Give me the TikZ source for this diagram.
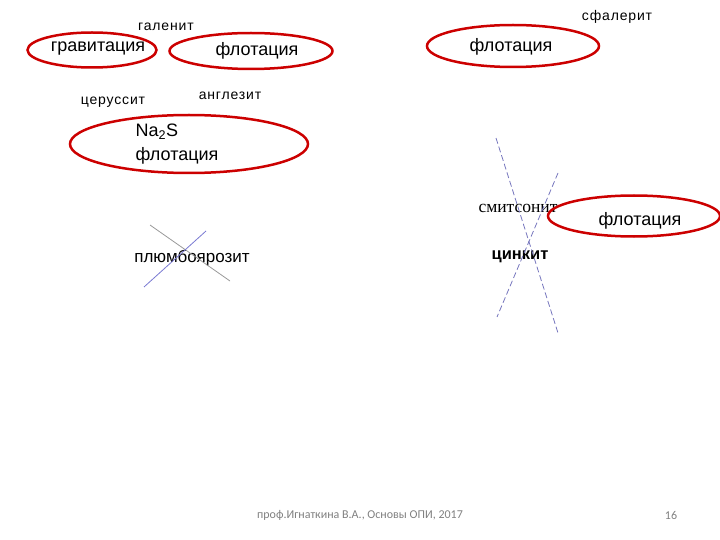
\documentclass[tikz,border=0pt]{standalone}
\usepackage{fontspec}
\setmainfont{Liberation Sans}
\newfontfamily\serifcyr{Liberation Serif}
\newfontfamily\calib{Carlito}
\usetikzlibrary{shapes.geometric,positioning}

\begin{document}
\begin{tikzpicture}[x=1pt,y=-1pt,semithick]
  \tikzstyle{method}=[ellipse,draw=red!80!black,line width=2.5pt,inner sep=0pt]
  \tikzstyle{methodtext}=[inner sep=0pt,font=\fontsize{18}{24}\selectfont]
  \tikzstyle{mineral}=[inner sep=1pt,font=\fontsize{14}{16}\selectfont\addfontfeature{LetterSpace=6}]
  \tikzstyle{crossline}=[line width=0.8pt,draw=blue!35!gray!80]
  \tikzstyle{footer}=[inner sep=0pt,text=gray,font=\calib\fontsize{12}{14}\selectfont]

  \useasboundingbox (0,0) rectangle (720,540);

  % lead minerals
  \node[mineral] (galena)   at (166,27)  {галенит};
  \node[method, minimum width=129, minimum height=35] (grav) at (92,50) {};
  \node[methodtext] (gravtext) at (98,49) {гравитация};
  \node[method, minimum width=163, minimum height=36] (flotA) at (251,51) {};
  \node[methodtext] (flotAtext) at (257,51) {флотация};
  \node[mineral] (cerus)    at (113,102) {церуссит};
  \node[mineral] (angl)     at (230,96)  {англезит};
  \node[method, minimum width=238, minimum height=58] (sulf) at (189,144) {};
  \node[methodtext, align=left] (sulftext) at (177,144)
       {Na\textsubscript{2}S\\флотация};
  \node[inner sep=1pt,font=\fontsize{17}{19}\selectfont] (plumb) at (192,258) {плюмбоярозит};

  % zinc minerals
  \node[mineral] (sphal)    at (617,17)  {сфалерит};
  \node[method, minimum width=172, minimum height=42] (flotB) at (513,46) {};
  \node[methodtext] (flotBtext) at (511,47) {флотация};
  \node[inner sep=1pt,font=\serifcyr\fontsize{17.5}{19}\selectfont] (smith) at (518,208) {смитсонит};
  \node[method, minimum width=172, minimum height=41] (flotC) at (634,216) {};
  \node[methodtext] (flotCtext) at (640,221) {флотация};
  \node[inner sep=1pt,font=\fontsize{16.5}{18}\selectfont\bfseries] (zinc) at (520,257) {цинкит};

  % crossed out
  \coordinate (pA) at (150,225);
  \coordinate (pB) at (230,281);
  \coordinate (pC) at (206,231);
  \coordinate (pD) at (144,287);
  \draw[crossline,draw=gray!80] (pA) -- (pB);
  \draw[crossline,draw=blue!50!gray!70] (pC) -- (pD);

  \coordinate (zA) at (496,138);
  \coordinate (zB) at (558,333);
  \coordinate (zC) at (558,173);
  \coordinate (zD) at (497,317);
  \draw[crossline,dash pattern=on 6pt off 3pt] (zA) -- (zB);
  \draw[crossline,dash pattern=on 6pt off 3pt] (zC) -- (zD);

  % footer
  \node[footer] (src)  at (360,515) {проф.Игнаткина В.А., Основы ОПИ, 2017};
  \node[footer] (page) at (671,515) {16};
\end{tikzpicture}
\end{document}
